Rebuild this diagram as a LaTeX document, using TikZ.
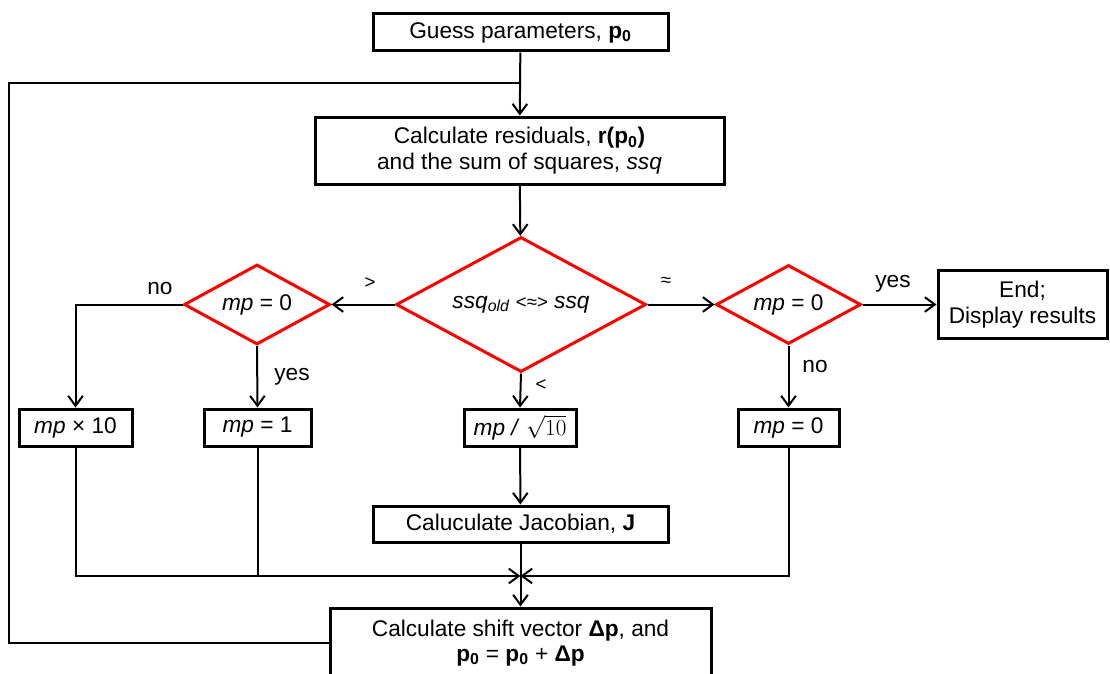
\documentclass[tikz,border=0pt]{standalone}
\usepackage{fontspec}
\setmainfont{Liberation Sans}
\usetikzlibrary{arrows.meta,shapes.geometric}
\begin{document}
\begin{tikzpicture}[x=0.75pt,y=-0.75pt,
  font=\fontsize{17}{19}\selectfont,
  box/.style={draw,line width=2.25pt,inner sep=0pt,align=center},
  dia/.style={diamond,draw=red,line width=2.25pt,inner sep=0pt,align=center,aspect=1.84},
  conn/.style={line width=1.5pt},
  arr/.style={conn,-{Straight Barb[length=7.5pt,width=11pt,line width=1.5pt]}},
  lbl/.style={inner sep=0pt},
  sym/.style={inner sep=0pt,font=\fontsize{14}{16}\selectfont}]
\useasboundingbox (0,0) rectangle (1110,674);

% boxes
\node[box,minimum width=295*0.75pt,minimum height=37*0.75pt] (guess) at (520.5,32.5)
  {Guess parameters, \textbf{p\textsubscript{0}}};
\node[box,minimum width=409*0.75pt,minimum height=67*0.75pt] (calc) at (519.5,150.5)
  {Calculate residuals, \textbf{r(p\textsubscript{0})}\\and the sum of squares, \textit{ssq}};
\node[dia,minimum width=250*0.75pt,minimum height=135*0.75pt] (bigd) at (521,304.5)
  {\textit{ssq\textsubscript{old}} {\fontsize{14}{16}\selectfont<≈>} \textit{ssq}};
\node[dia,minimum width=146*0.75pt,minimum height=80*0.75pt] (ld) at (257,304.5)
  {\textit{mp} = 0};
\node[dia,minimum width=145*0.75pt,minimum height=79*0.75pt] (rd) at (788.5,304.5)
  {\textit{mp} = 0};
\node[box,minimum width=169*0.75pt,minimum height=68*0.75pt] (end) at (1022.5,304.5)
  {End;\\Display results};
\node[box,minimum width=113*0.75pt,minimum height=37*0.75pt] (b1) at (75.5,427.5)
  {\textit{mp} × 10};
\node[box,minimum width=107*0.75pt,minimum height=37*0.75pt] (b2) at (257.5,427.5)
  {\textit{mp} = 1};
\node[box,minimum width=112*0.75pt,minimum height=37*0.75pt] (b3) at (520,427.5)
  {\textit{mp} \textit{/} $\sqrt{10}$};
\node[box,minimum width=101*0.75pt,minimum height=37*0.75pt] (b4) at (788.5,427.5)
  {\textit{mp} = 0};
\node[box,minimum width=295*0.75pt,minimum height=36*0.75pt] (jac) at (520.5,524)
  {Caluculate Jacobian, \textbf{J}};
\node[box,minimum width=381*0.75pt,minimum height=70*0.75pt] (shift) at (520.5,643)
  {Calculate shift vector \textbf{Δp}, and\\
   \textbf{p\textsubscript{0}} = \textbf{p\textsubscript{0}} + \textbf{Δp}};

% helper coordinates
\coordinate (fbL) at (9,83);
\coordinate (fbJ) at (guess.south |- fbL);
\coordinate (J) at (jac.south |- 0,576);

% connectors
\draw[arr] (guess) -- (calc);
\draw[conn] (shift.west) -| (fbL) -- (fbJ);
\draw[arr] (calc) -- (bigd);
\draw[arr] (bigd.west) -- (ld.east);
\draw[arr] (bigd.east) -- (rd.west);
\draw[arr] (bigd.south) -- (b3.north);
\draw[arr] (rd.east) -- (end.west);
\draw[arr] (rd.south) -- (b4.north);
\draw[arr] (ld.west) -| (b1.north);
\draw[arr] (ld.south) -- (b2.north);
\draw[arr] (b3) -- (jac);
\draw[arr] (jac) -- (shift);
\draw[arr] (b1.south) |- (J);
\draw[conn] (b2.south) -- (b2.south |- J);
\draw[arr] (b4.south) |- (J);

% labels
\node[sym] (gt) at (370,283) {>};
\node[sym] (ap) at (666,282) {≈};
\node[sym] (lt) at (541,385) {<};
\node[lbl] (noL) at (160,289) {no};
\node[lbl] (yesL) at (292,377) {yes};
\node[lbl] (yesR) at (893,284) {yes};
\node[lbl] (noR) at (815,367) {no};
\end{tikzpicture}
\end{document}
